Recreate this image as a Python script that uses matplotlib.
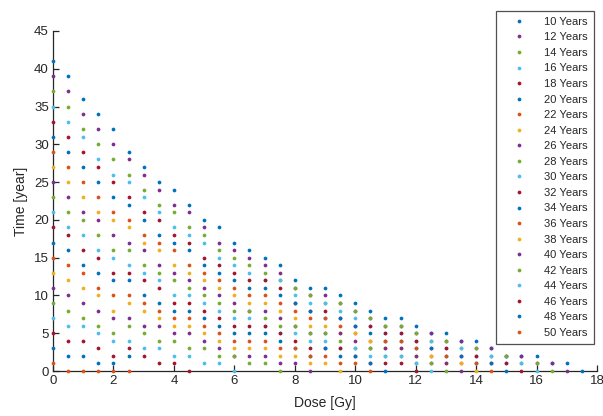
import numpy as np
import matplotlib
matplotlib.use("Agg")
import matplotlib.pyplot as plt

# Dose positions (Gy)
doses = [0.5 * i for i in range(36)]

# Time values [year] read per dose column, listed from the "10 Years" series downward
t_d00 = [41, 39, 37, 35, 33, 31, 29, 27, 25, 23, 21, 19, 17, 15, 13, 11, 9, 7, 5, 3, 1]
t_d05 = [39, 37, 35, 33, 31, 29, 27, 25, 23, 21, 19, 18, 16, 14, 12, 10, 8, 6, 4, 2, 0]
t_d10 = [36, 34, 32, 31, 29, 27, 25, 23, 21, 20, 18, 16, 14, 13, 11, 9, 7, 6, 4, 2, 0]
t_d15 = [34, 32, 30, 28, 27, 25, 23, 21, 20, 18, 16, 15, 13, 11, 10, 8, 6, 5, 3, 1, 0]
t_d20 = [32, 30, 28, 26, 25, 23, 21, 20, 18, 16, 15, 13, 12, 10, 8, 7, 5, 4, 2, 1, 0]
t_d25 = [29, 28, 26, 25, 23, 22, 20, 19, 17, 16, 14, 13, 12, 10, 9, 7, 6, 4, 3, 2, 0]
t_d30 = [27, 26, 24, 23, 21, 20, 18, 17, 16, 14, 13, 12, 10, 9, 8, 6, 5, 3, 2]
t_d35 = [25, 24, 22, 21, 20, 18, 17, 16, 14, 13, 12, 11, 9, 8, 7, 6, 4, 3, 1]
t_d40 = [24, 22, 21, 19, 18, 17, 16, 14, 13, 12, 10, 9, 8, 7, 6, 5, 4, 2, 1]
t_d45 = [22, 21, 19, 18, 17, 16, 14, 13, 12, 11, 10, 9, 8, 7, 6, 5, 3, 2, 0]
t_d50 = [20, 19, 18, 17, 15, 14, 13, 12, 11, 10, 9, 8, 7, 6, 5, 4, 3, 1]
t_d55 = [19, 17, 16, 15, 14, 13, 12, 11, 10, 9, 8, 7, 6, 5, 4, 3, 2, 1]
t_d60 = [17, 16, 15, 14, 13, 12, 11, 10, 9, 8, 7, 6, 5, 4, 3, 2, 2, 0]
t_d65 = [16, 15, 14, 13, 12, 11, 10, 9, 8, 8, 7, 6, 5, 4, 3, 2, 1]
t_d70 = [15, 14, 13, 12, 12, 11, 10, 9, 8, 7, 6, 6, 5, 4, 3, 2, 1]
t_d75 = [14, 13, 12, 12, 11, 10, 9, 8, 7, 6, 5, 5, 4, 3, 2, 1, 0]
t_d80 = [12, 11, 11, 10, 9, 9, 8, 7, 6, 6, 5, 4, 3, 3, 2, 1]
t_d85 = [11, 10, 10, 9, 8, 8, 7, 6, 5, 5, 4, 3, 2, 2, 1, 0]
t_d90 = [11, 10, 9, 9, 8, 7, 7, 6, 5, 5, 4, 3, 3, 2, 1]
t_d95 = [10, 9, 9, 8, 7, 7, 6, 5, 5, 4, 3, 3, 2, 1, 0]
t_d100 = [9, 8, 8, 7, 6, 6, 5, 5, 4, 3, 3, 2, 2, 1]
t_d105 = [8, 7, 7, 6, 6, 5, 4, 4, 3, 3, 2, 1, 1, 0]
t_d110 = [7, 6, 6, 5, 5, 4, 4, 3, 3, 2, 2, 1, 0]
t_d115 = [7, 6, 6, 5, 5, 4, 4, 3, 3, 2, 2, 1]
t_d120 = [6, 5, 5, 4, 4, 3, 3, 2, 2, 1, 1, 0]
t_d125 = [5, 5, 4, 4, 3, 3, 2, 2, 1, 1, 0]
t_d130 = [5, 4, 4, 3, 3, 2, 2, 1, 1, 0]
t_d135 = [4, 4, 3, 3, 2, 2, 1, 1, 0]
t_d140 = [4, 3, 3, 2, 2, 1, 1, 0]
t_d145 = [3, 3, 2, 2, 1, 1, 0]
t_d150 = [2, 2, 2, 1, 1, 0]
t_d155 = [2, 2, 1, 1, 0]
t_d160 = [2, 1, 1, 0]
t_d165 = [1, 1, 0]
t_d170 = [1, 0]
t_d175 = [0]

dose_columns = [t_d00, t_d05, t_d10, t_d15, t_d20, t_d25, t_d30, t_d35, t_d40,
                t_d45, t_d50, t_d55, t_d60, t_d65, t_d70, t_d75, t_d80, t_d85,
                t_d90, t_d95, t_d100, t_d105, t_d110, t_d115, t_d120, t_d125,
                t_d130, t_d135, t_d140, t_d145, t_d150, t_d155, t_d160, t_d165,
                t_d170, t_d175]

series_years = [10, 12, 14, 16, 18, 20, 22, 24, 26, 28, 30, 32, 34, 36, 38, 40,
                42, 44, 46, 48, 50]
series_labels = [f"{y} Years" for y in series_years]

# MATLAB default palette
c_blue = (0.0, 0.447, 0.741)
c_orange = (0.85, 0.325, 0.098)
c_yellow = (0.929, 0.694, 0.125)
c_purple = (0.494, 0.184, 0.556)
c_green = (0.466, 0.674, 0.188)
c_lblue = (0.301, 0.745, 0.933)
c_dred = (0.635, 0.078, 0.184)
series_colors = [c_blue, c_purple, c_green, c_lblue, c_dred, c_blue, c_orange,
                 c_yellow, c_purple, c_green, c_lblue, c_dred, c_blue, c_orange,
                 c_yellow, c_purple, c_green, c_lblue, c_dred, c_blue, c_orange]

plt.rcParams['font.family'] = ['Liberation Sans', 'DejaVu Sans']

W, H = 603, 416
fig = plt.figure(figsize=(W / 100, H / 100), dpi=100)
ax = fig.add_axes([53 / W, 1 - 371 / H, (597 - 53) / W, (371 - 31) / H])

for k, (lab, col) in enumerate(zip(series_labels, series_colors)):
    xs = [d for d, c in zip(doses, dose_columns) if len(c) > k]
    ys = [c[k] for c in dose_columns if len(c) > k]
    ax.plot(xs, ys, linestyle='none', marker='o', markersize=2.7,
            markeredgewidth=0, color=col, label=lab, clip_on=False, zorder=3)

ax.set_xlim(0, 18)
ax.set_ylim(0, 45)
ax.set_xticks(range(0, 19, 2))
ax.set_yticks(range(0, 46, 5))
ink = '#262626'
for s in ['top', 'right']:
    ax.spines[s].set_visible(False)
for s in ['left', 'bottom']:
    ax.spines[s].set_color(ink)
    ax.spines[s].set_linewidth(0.9)
ax.tick_params(direction='in', length=4, width=0.9, colors=ink, labelsize=9.5,
               pad=3)
ax.set_xlabel('Dose [Gy]', fontsize=10, color=ink, labelpad=6)
ax.set_ylabel('Time [year]', fontsize=10, color=ink, labelpad=4)

leg = ax.legend(loc='upper right', bbox_to_anchor=(594 / W, 1 - 10.7 / H),
                bbox_transform=fig.transFigure, borderaxespad=0,
                fontsize=8, frameon=True, fancybox=False, handlelength=3.0,
                handletextpad=0.75, borderpad=0.55, labelspacing=0.5,
                markerscale=1.0)
leg.get_frame().set_edgecolor(ink)
leg.get_frame().set_linewidth(0.9)
for t in leg.get_texts():
    t.set_color(ink)

fig.savefig('out.png', dpi=100)
